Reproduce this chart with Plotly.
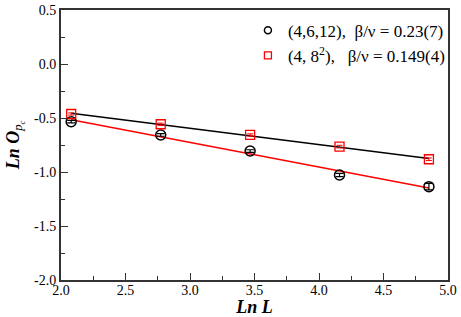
import numpy as np
import plotly.graph_objects as go

lnL = [2.079, 2.773, 3.466, 4.159, 4.852]
circ_y = [-0.534, -0.657, -0.806, -1.028, -1.136]
circ_err = [0.012, 0.012, 0.012, 0.015, 0.03]
sq_y = [-0.463, -0.558, -0.657, -0.765, -0.882]
sq_err = [0.01, 0.01, 0.01, 0.012, 0.012]
label_c = "(4,6,12),  β/ν = 0.23(7)"
label_s = "(4, 8<sup>2</sup>),   β/ν = 0.149(4)"
x_ticks = [2.0, 2.5, 3.0, 3.5, 4.0, 4.5, 5.0]
x_ticktext = ["2.0", "2.5", "3.0", "3.5", "4.0", "4.5", "5.0"]
y_ticks = [-2.0, -1.5, -1.0, -0.5, 0.0, 0.5]
y_ticktext = ["-2.0", "-1.5", "-1.0", "-0.5", "0.0", "0.5"]

FONT = "Liberation Serif, Times New Roman, serif"

fit_s = np.polyfit(lnL, sq_y, 1)
fit_c = np.polyfit(lnL, circ_y, 1)
xe = np.array([lnL[0], lnL[-1]])

fig = go.Figure()
fig.add_trace(go.Scatter(x=xe, y=np.polyval(fit_s, xe), mode="lines",
                         line=dict(color="black", width=1.5), showlegend=False))
fig.add_trace(go.Scatter(x=xe, y=np.polyval(fit_c, xe), mode="lines",
                         line=dict(color="red", width=1.5), showlegend=False))
fig.add_trace(go.Scatter(x=lnL, y=circ_y, mode="markers", showlegend=False,
                         marker=dict(symbol="circle-open", size=10, color="black",
                                     line=dict(width=1.5, color="black")),
                         error_y=dict(type="data", array=circ_err, color="black",
                                      thickness=1.2, width=4)))
fig.add_trace(go.Scatter(x=lnL, y=sq_y, mode="markers", showlegend=False,
                         marker=dict(symbol="square-open", size=9, color="red",
                                     line=dict(width=1.3, color="red")),
                         error_y=dict(type="data", array=sq_err, color="red",
                                      thickness=1.0, width=3)))
# legend entries (smaller symbols, as in the reference key)
fig.add_trace(go.Scatter(x=[None], y=[None], mode="markers", name=label_c,
                         marker=dict(symbol="circle-open", size=7, color="black",
                                     line=dict(width=1.5, color="black"))))
fig.add_trace(go.Scatter(x=[None], y=[None], mode="markers", name=label_s,
                         marker=dict(symbol="square-open", size=7, color="red",
                                     line=dict(width=1.3, color="red"))))

axis_common = dict(showgrid=False, zeroline=False, showline=True, linecolor="#333",
                   linewidth=2, mirror=True, ticks="inside", ticklen=7,
                   tickcolor="#333", tickwidth=1, automargin=False,
                   tickfont=dict(family=FONT, size=14, color="black"))

fig.update_xaxes(range=[2.0, 5.0], tickmode="array", tickvals=x_ticks, ticktext=x_ticktext,
                 ticklabelstandoff=-4,
                 minor=dict(ticks="inside", ticklen=4, dtick=0.25, tick0=2.0, tickcolor="#333"),
                 title=dict(text="<b><i>Ln L</i></b>", font=dict(family=FONT, size=18, color="black"),
                            standoff=0),
                 **axis_common)
fig.update_yaxes(range=[-2.0, 0.5], tickmode="array", tickvals=y_ticks, ticktext=y_ticktext,
                 minor=dict(ticks="inside", ticklen=4, dtick=0.25, tick0=0, tickcolor="#333"),
                 title=dict(text="<b><i>Ln O</i></b><sub><i>p<sub>c</sub></i></sub>",
                            font=dict(family=FONT, size=18, color="black"), standoff=10),
                 **axis_common)

fig.update_layout(
    width=461, height=317,
    margin=dict(l=61, r=13, t=10, b=37, autoexpand=False),
    paper_bgcolor="white", plot_bgcolor="white",
    font=dict(family=FONT, size=14, color="black"),
    legend=dict(x=0.483, y=0.99, xanchor="left", yanchor="top",
                bgcolor="rgba(0,0,0,0)", font=dict(family=FONT, size=17),
                tracegroupgap=0, itemwidth=30),
)

fig.write_html("out.html", config={"displayModeBar": False},
               post_script="document.body.style.margin='0';document.body.style.overflow='hidden';")
